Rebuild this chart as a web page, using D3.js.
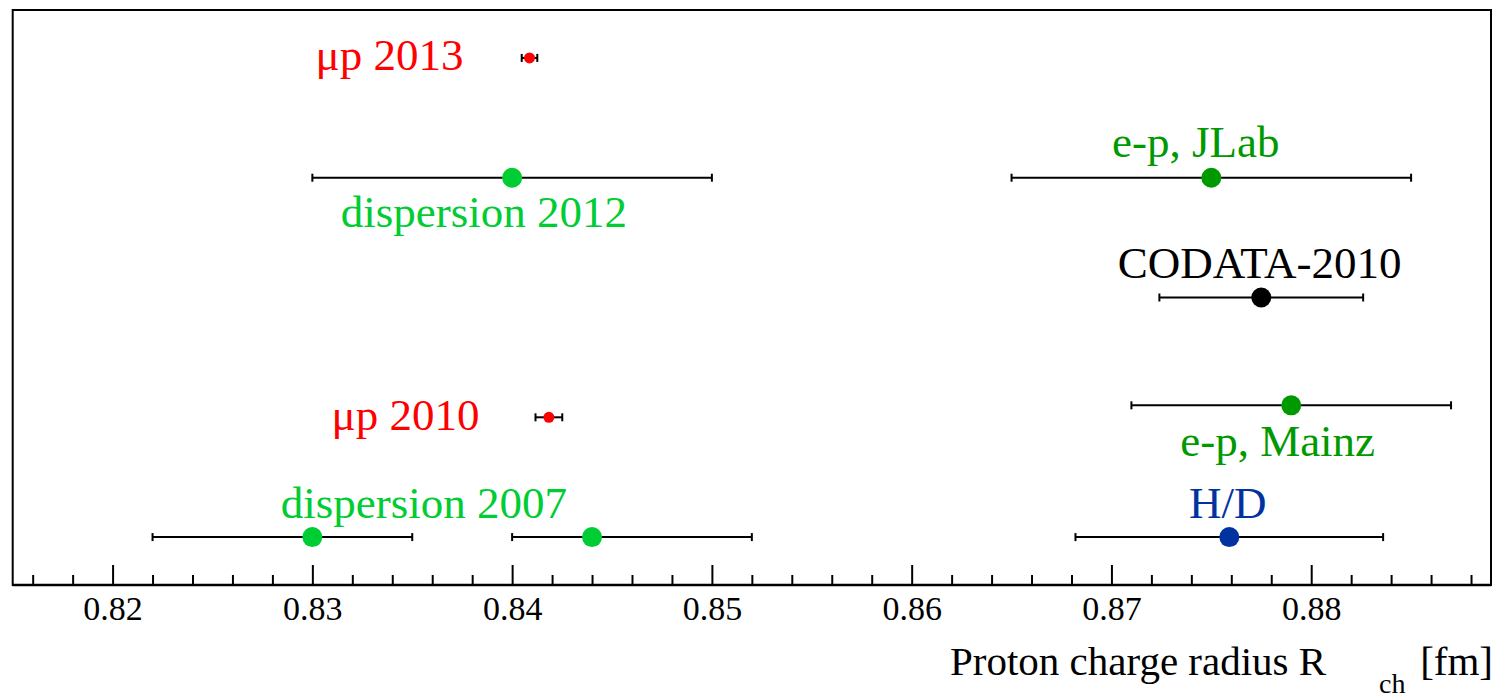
<!DOCTYPE html>
<html>
<head>
<meta charset="utf-8">
<script src="https://cdn.jsdelivr.net/npm/d3@7"></script>
<style>
  html, body { margin: 0; padding: 0; background: #fff; }
  svg { display: block; }
  svg text { font-family: "Liberation Serif", "Times New Roman", serif !important; }
</style>
</head>
<body>
<svg id="chart" width="1499" height="700"></svg>
<script>
// ---- data ----
const names    = ["μp 2013", "dispersion 2012", "e-p, JLab", "CODATA-2010", "e-p, Mainz", "μp 2010", "dispersion 2007", "dispersion 2007 b", "H/D"];
const groups   = ["muonic", "dispersion", "ep", "codata", "ep", "muonic", "dispersion", "dispersion", "hd"];
const values   = [0.84087, 0.840, 0.875, 0.8775, 0.879, 0.84184, 0.830, 0.844, 0.8759];
const errLow   = [0.00039, 0.010, 0.010, 0.0051, 0.008, 0.00067, 0.008, 0.004, 0.0077];
const errHigh  = [0.00039, 0.010, 0.010, 0.0051, 0.008, 0.00067, 0.005, 0.008, 0.0077];
const rows     = [4.4, 3.4, 3.4, 2.4, 1.5, 1.4, 0.4, 0.4, 0.4];

// label annotations (in data units)
const labelText = ["μp 2013", "dispersion 2012", "e-p, JLab", "CODATA-2010", "e-p, Mainz", "μp 2010", "dispersion 2007", "H/D"];
const labelGroup = ["muonic", "dispersion", "ep", "codata", "ep", "muonic", "dispersion", "hd"];
const labelX = [0.83386, 0.83859, 0.87422, 0.87742, 0.87832, 0.83466, 0.83558, 0.87582];
const labelY = [4.30, 2.99, 3.57, 2.56, 1.08, 1.29, 0.56, 0.56];

const tickValues = [0.82, 0.83, 0.84, 0.85, 0.86, 0.87, 0.88];
const xDomain = [0.815, 0.889];
const yDomain = [0, 4.8];

// ---- layout ----
const svg = d3.select("#chart");
const mLeft = 12.7, mRight = 1491, mTop = 10, mBottom = 585;
const SERIF = '"Liberation Serif", "Times New Roman", serif';

const x = d3.scaleLinear().domain(xDomain).range([mLeft, mRight]);
const y = d3.scaleLinear().domain(yDomain).range([mBottom, mTop]);

const color = d3.scaleOrdinal()
  .domain(["muonic", "dispersion", "ep", "codata", "hd"])
  .range(["#ff0000", "#00cc33", "#009900", "#000000", "#0033a0"]);
const radius = g => g === "muonic" ? 5.5 : 10;

// frame
svg.append("rect")
  .attr("x", mLeft).attr("y", mTop)
  .attr("width", mRight - mLeft).attr("height", mBottom - mTop)
  .attr("fill", "none").attr("stroke", "#000").attr("stroke-width", 2);

// x axis with inward ticks
const minorTicks = d3.range(0.816, 0.8891, 0.002).map(v => +v.toFixed(3))
  .filter(v => !tickValues.some(t => Math.abs(t - v) < 1e-6));

const axisG = svg.append("g").attr("transform", `translate(0,${mBottom})`);
axisG.call(d3.axisBottom(x).tickValues(tickValues).tickSize(-20).tickFormat(d3.format(".2f")).tickPadding(0))
  .attr("font-family", SERIF)
  .call(g => g.select(".domain").remove())
  .call(g => g.selectAll(".tick line").attr("stroke", "#000").attr("stroke-width", 2))
  .call(g => g.selectAll(".tick text")
      .attr("y", 35).attr("dy", 0)
      .attr("font-size", 34)
      .style("font-family", SERIF)
      .attr("fill", "#000"));
axisG.append("g").call(d3.axisBottom(x).tickValues(minorTicks).tickSize(-10).tickFormat(""))
  .call(g => g.select(".domain").remove())
  .call(g => g.selectAll(".tick line").attr("stroke", "#000").attr("stroke-width", 2));
axisG.append("line").attr("x1", mLeft).attr("x2", mRight).attr("y1", 0).attr("y2", 0)
  .attr("stroke", "#000").attr("stroke-width", 2.5);

// axis title
const title = svg.append("g").attr("fill", "#000").style("font-family", SERIF);
title.append("text").attr("x", 950).attr("y", 675).attr("font-size", 41).style("font-family", SERIF).text("Proton charge radius R");
title.append("text").attr("x", 1379).attr("y", 693).attr("font-size", 28).style("font-family", SERIF).text("ch");
title.append("text").attr("x", 1493).attr("y", 675).attr("font-size", 41).attr("text-anchor", "end").style("font-family", SERIF).text("[fm]");

// error bars
const idx = d3.range(values.length);
const eb = svg.append("g").attr("stroke", "#000").attr("stroke-width", 2);
idx.forEach(i => {
  const cy = y(rows[i]);
  const x0 = x(values[i] - errLow[i]), x1 = x(values[i] + errHigh[i]);
  eb.append("line").attr("x1", x0).attr("x2", x1).attr("y1", cy).attr("y2", cy);
  eb.append("line").attr("x1", x0).attr("x2", x0).attr("y1", cy - 4).attr("y2", cy + 4);
  eb.append("line").attr("x1", x1).attr("x2", x1).attr("y1", cy - 4).attr("y2", cy + 4);
});

// markers
svg.append("g").selectAll("circle").data(idx).join("circle")
  .attr("cx", i => x(values[i]))
  .attr("cy", i => y(rows[i]))
  .attr("r", i => radius(groups[i]))
  .attr("fill", i => color(groups[i]));

// labels
svg.append("g").selectAll("text").data(d3.range(labelText.length)).join("text")
  .attr("x", i => x(labelX[i]))
  .attr("y", i => y(labelY[i]))
  .attr("text-anchor", "middle")
  .attr("font-size", 45)
  .style("font-family", SERIF)
  .attr("fill", i => color(labelGroup[i]))
  .text(i => labelText[i]);
</script>
</body>
</html>
